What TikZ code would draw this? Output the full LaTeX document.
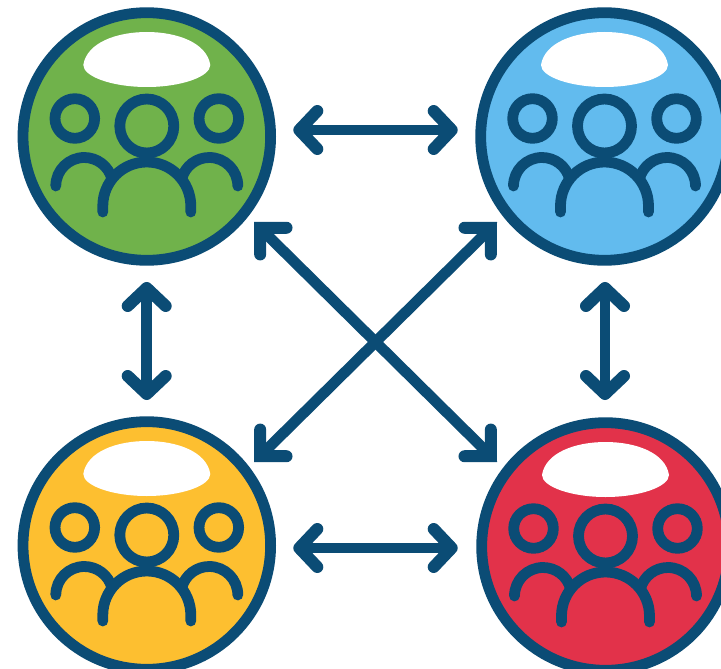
\documentclass[tikz,border=0pt]{standalone}
\usetikzlibrary{arrows.meta}
\definecolor{navy}{RGB}{11,76,117}
\definecolor{grp}{RGB}{112,178,75}
\definecolor{skyb}{RGB}{98,187,238}
\definecolor{amber}{RGB}{253,191,48}
\definecolor{crim}{RGB}{226,50,74}
\tikzset{
  team/.style={circle,draw=navy,line width=10.8pt,minimum size=247.6pt,inner sep=0pt},
  person/.style={draw=navy,line width=10.8pt,line cap=round},
  shine/.style={fill=white,draw=none},
  axislink/.style={draw=navy,line width=10.8pt,{Straight Barb[length=18pt,width=38pt,line width=12pt,round]}-{Straight Barb[length=18pt,width=38pt,line width=12pt,round]}},
  diaglink/.style={draw=navy,line width=10.8pt,{Straight Barb[length=18.7pt,width=37.5pt,line width=12pt,line cap=round,line join=miter]}-{Straight Barb[length=18.7pt,width=37.5pt,line width=12pt,line cap=round,line join=miter]}}
}
\newcommand{\teamicon}[1]{%
  \begin{scope}[shift={(#1.center)},x=1pt,y=1pt]
    \path[shine] (-63.5,71.5) .. controls (-60,94) and (-30,104.5) .. (0,104.5)
      .. controls (30,104.5) and (60,94) .. (63.5,71.5)
      .. controls (63.5,60) and (35,49.5) .. (0,49.5)
      .. controls (-35,49.5) and (-63.5,60) .. (-63.5,71.5) -- cycle;
    \draw[person] (0,10.5) circle[radius=27pt];
    \draw[person] (-72,18) circle[radius=19.8pt];
    \draw[person] (72,18) circle[radius=19.8pt];
    \draw[person] (-44,-75.5) -- (-44,-69.5) arc[start angle=180,end angle=0,radius=44pt] -- (44,-75.5);
    \draw[person] (-91,-49.5) arc[start angle=180,end angle=15,radius=28.5pt];
    \draw[person] (91,-49.5) arc[start angle=0,end angle=165,radius=28.5pt];
  \end{scope}}
\begin{document}
\begin{tikzpicture}[x=1pt,y=-1pt]
  \useasboundingbox (0,0) rectangle (721,669);
  \clip (0,0) rectangle (721,669);
  \fill[white] (0,0) rectangle (721,669);
  \node[team,fill=grp] (green) at (146.8,136.5) {};
  \node[team,fill=skyb] (blue) at (604.5,136.5) {};
  \node[team,fill=amber] (yellow) at (146.8,545.5) {};
  \node[team,fill=crim] (red) at (605.5,546.5) {};
  \teamicon{green}
  \teamicon{blue}
  \teamicon{yellow}
  \teamicon{red}
  \coordinate (gbL) at (293.3,130);
  \coordinate (gbR) at (457.7,130);
  \coordinate (yrL) at (293.3,548);
  \coordinate (yrR) at (457.7,548);
  \coordinate (gyT) at (146.7,282);
  \coordinate (gyB) at (146.7,400);
  \coordinate (brT) at (605,282);
  \coordinate (brB) at (605,400);
  \coordinate (grA) at (254,222);
  \coordinate (grB) at (497,462);
  \coordinate (ybA) at (254,462);
  \coordinate (ybB) at (497,222);
  \draw[axislink] (gbL) -- (gbR);
  \draw[axislink] (yrL) -- (yrR);
  \draw[axislink] (gyT) -- (gyB);
  \draw[axislink] (brT) -- (brB);
  \draw[diaglink] (grA) -- (grB);
  \draw[diaglink] (ybA) -- (ybB);
\end{tikzpicture}
\end{document}
